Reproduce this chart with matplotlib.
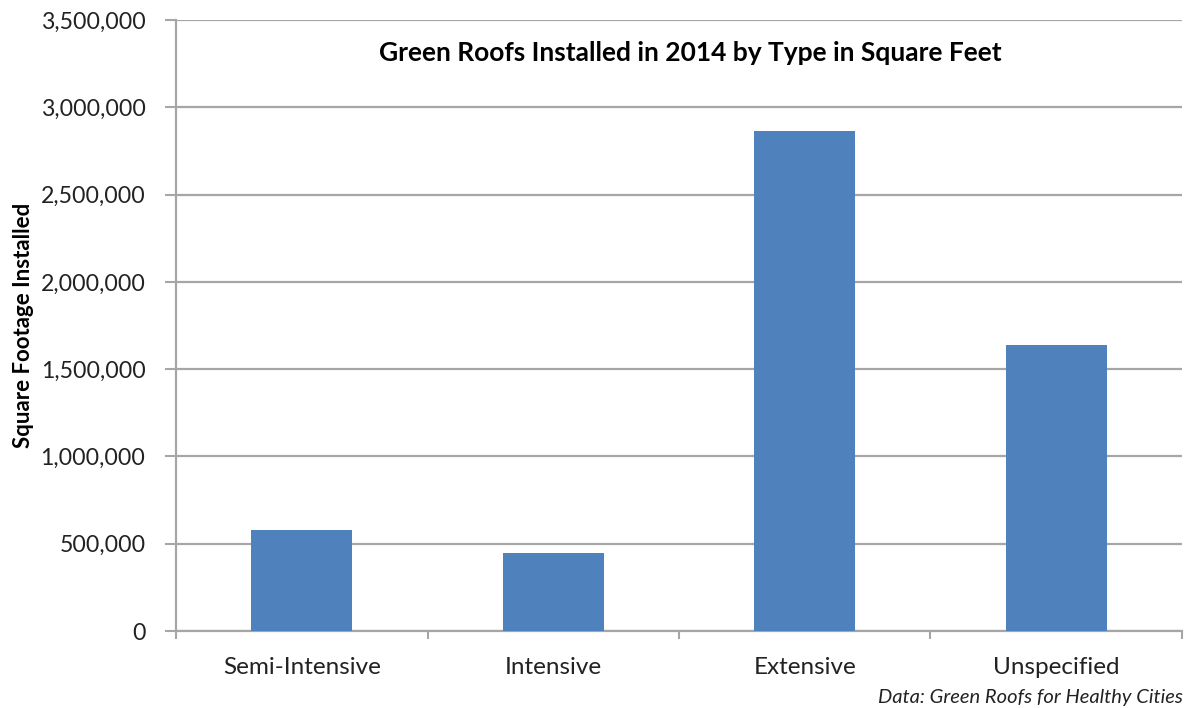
import matplotlib.pyplot as plt
from matplotlib.ticker import FuncFormatter, FixedLocator
import numpy as np

categories = ["Semi-Intensive", "Intensive", "Extensive", "Unspecified"]
sq_feet = [580000, 445000, 2865000, 1640000]
y_ticks = [0, 500000, 1000000, 1500000, 2000000, 2500000, 3000000, 3500000]

plt.rcParams["font.family"] = ["Lato", "DejaVu Sans"]

fig = plt.figure(figsize=(11.87, 7.08), dpi=100)
ax = fig.add_axes([176 / 1187, 1 - 631 / 708, (1182 - 176) / 1187, (631 - 20) / 708])

x = np.arange(len(categories))
ax.bar(x, sq_feet, width=0.4, color="#4F81BD", zorder=3)

ax.set_xlim(-0.5, len(categories) - 0.5)
ax.set_ylim(0, 3500000)
ax.set_yticks(y_ticks)
ax.yaxis.set_major_formatter(FuncFormatter(lambda v, p: f"{int(v):,}"))
ax.grid(axis="y", color="#a6a6a6", linewidth=1.6, zorder=0)

# category labels centred, tick marks between categories
ax.set_xticks(x)
ax.set_xticklabels(categories)
ax.xaxis.set_minor_locator(FixedLocator(np.arange(len(categories) + 1) - 0.5))
ax.tick_params(axis="x", which="major", length=0, pad=19, labelsize=17.5, labelcolor="#222222")
ax.tick_params(axis="x", which="minor", length=6, width=1.5, color="#a6a6a6", direction="out")
ax.tick_params(axis="y", length=8, width=1.5, color="#a6a6a6", pad=14, labelsize=16.7, labelcolor="#222222")

for s in ["top", "right"]:
    ax.spines[s].set_visible(False)
ax.spines["left"].set_color("#a6a6a6")
ax.spines["left"].set_linewidth(1.6)
ax.spines["bottom"].set_color("#a6a6a6")
ax.spines["bottom"].set_linewidth(1.6)

ax.set_ylabel("Square Footage Installed", fontsize=16, fontweight="bold", labelpad=5)
ax.text(0.511, 0.946, "Green Roofs Installed in 2014 by Type in Square Feet",
        transform=ax.transAxes, ha="center", va="center", fontsize=19, fontweight="bold")

fig.text(1183 / 1187, 1 - 698 / 708, "Data: Green Roofs for Healthy Cities",
         ha="right", va="center", fontsize=14.5, style="italic", color="#222222")

fig.savefig("out.png", dpi=100)
